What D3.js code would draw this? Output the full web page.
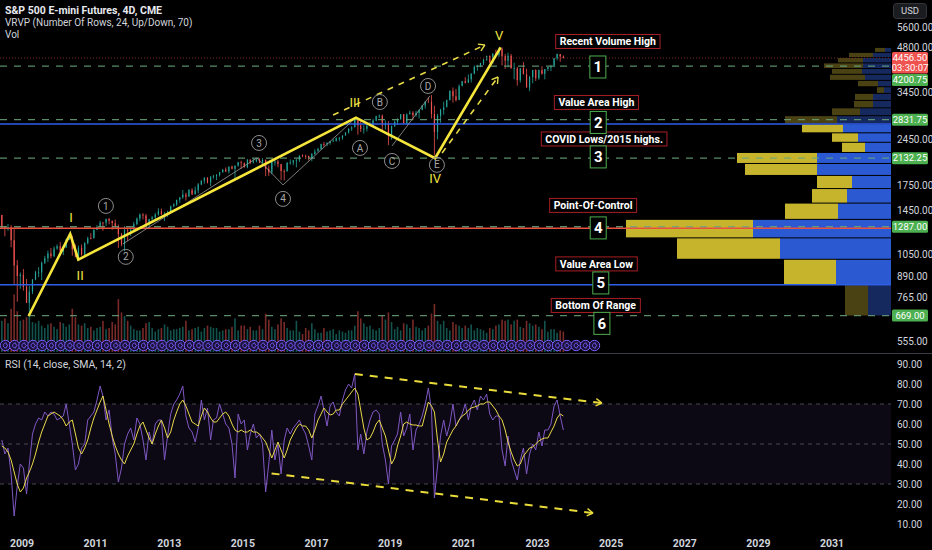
<!DOCTYPE html>
<html>
<head>
<meta charset="utf-8">
<script src="https://cdn.jsdelivr.net/npm/d3@7/dist/d3.min.js"></script>
<style>
  html, body { margin: 0; padding: 0; background: #000; }
  svg { display: block; font-family: "Liberation Sans Narrow", Roboto, "Noto Sans", sans-serif; }
</style>
</head>
<body>
<svg id="chart" width="932" height="550"></svg>
<script>
// ---- monthly S&P 500 futures, Jun 2008 .. Sep 2023 ----
const closes = [
  1280, 1267, 1282, 1166, 968, 896, 903,
  826, 735, 798, 873, 919, 919, 987, 1021, 1057, 1036, 1096, 1115,
  1074, 1104, 1169, 1187, 1089, 1031, 1102, 1049, 1141, 1183, 1181, 1258,
  1286, 1327, 1326, 1364, 1345, 1321, 1292, 1219, 1131, 1253, 1247, 1258,
  1312, 1366, 1408, 1398, 1310, 1362, 1379, 1407, 1441, 1412, 1416, 1426,
  1498, 1515, 1569, 1598, 1631, 1606, 1686, 1633, 1682, 1757, 1806, 1848,
  1783, 1859, 1872, 1884, 1924, 1960, 1931, 2003, 1972, 2018, 2068, 2059,
  1995, 2105, 2068, 2086, 2107, 2063, 2104, 1972, 1920, 2079, 2080, 2044,
  1940, 1932, 2060, 2065, 2097, 2099, 2174, 2171, 2168, 2126, 2199, 2239,
  2279, 2364, 2363, 2384, 2412, 2423, 2470, 2472, 2519, 2575, 2648, 2674,
  2824, 2714, 2641, 2648, 2705, 2718, 2816, 2902, 2914, 2712, 2760, 2507,
  2704, 2784, 2834, 2946, 2752, 2942, 2980, 2926, 2977, 3038, 3141, 3231,
  3226, 2954, 2585, 2912, 3044, 3100, 3271, 3500, 3363, 3270, 3622, 3756,
  3714, 3811, 3973, 4181, 4204, 4298, 4395, 4523, 4308, 4605, 4567, 4766,
  4516, 4374, 4530, 4132, 4132, 3785, 4130, 3955, 3586, 3872, 4080, 3840,
  4077, 3970, 4109, 4169, 4180, 4450, 4589, 4508, 4456.5
];
const highs = [
  1404, 1293, 1313, 1303, 1264, 1007, 919,
  943, 876, 832, 875, 930, 956, 996, 1039, 1080, 1101, 1113, 1130,
  1150, 1113, 1180, 1220, 1206, 1131, 1120, 1129, 1148, 1196, 1227, 1263,
  1303, 1344, 1332, 1364, 1371, 1346, 1357, 1308, 1230, 1293, 1277, 1270,
  1334, 1378, 1420, 1422, 1415, 1363, 1392, 1426, 1475, 1471, 1434, 1448,
  1504, 1530, 1570, 1598, 1687, 1654, 1698, 1709, 1730, 1775, 1813, 1849,
  1850, 1867, 1884, 1897, 1924, 1968, 1991, 2005, 2019, 2018, 2075, 2093,
  2065, 2120, 2117, 2126, 2135, 2130, 2133, 2113, 2021, 2094, 2116, 2104,
  2039, 1963, 2073, 2112, 2103, 2121, 2178, 2194, 2187, 2170, 2214, 2278,
  2301, 2371, 2401, 2398, 2419, 2454, 2484, 2491, 2520, 2582, 2657, 2695,
  2873, 2835, 2801, 2718, 2742, 2791, 2848, 2916, 2941, 2940, 2815, 2800,
  2708, 2813, 2860, 2949, 2954, 2964, 3028, 3014, 3022, 3050, 3154, 3248,
  3338, 3393, 3136, 2955, 3068, 3233, 3280, 3514, 3588, 3550, 3668, 3760,
  3870, 3950, 3981, 4218, 4238, 4302, 4430, 4537, 4546, 4608, 4743, 4808,
  4818, 4595, 4637, 4593, 4307, 4177, 4140, 4325, 4119, 3905, 4080, 4101,
  4095, 4195, 4110, 4170, 4231, 4449, 4607, 4584, 4541
];
const lows = [
  1272, 1200, 1248, 1107, 840, 741, 815,
  804, 735, 667, 784, 868, 888, 869, 979, 993, 1020, 1029, 1086,
  1071, 1045, 1101, 1170, 1040, 1028, 1011, 1040, 1040, 1131, 1173, 1186,
  1257, 1290, 1249, 1294, 1311, 1258, 1282, 1101, 1114, 1075, 1158, 1202,
  1258, 1300, 1340, 1358, 1291, 1267, 1325, 1355, 1397, 1403, 1343, 1385,
  1426, 1485, 1501, 1536, 1581, 1560, 1605, 1627, 1633, 1646, 1747, 1768,
  1770, 1737, 1834, 1815, 1862, 1915, 1930, 1904, 1964, 1821, 2002, 1972,
  1988, 1980, 2040, 2048, 2067, 2057, 2044, 1867, 1872, 1894, 2019, 1993,
  1812, 1810, 1938, 2033, 2026, 1992, 2075, 2148, 2120, 2097, 2084, 2187,
  2245, 2271, 2322, 2329, 2353, 2405, 2407, 2417, 2446, 2520, 2557, 2605,
  2682, 2533, 2585, 2553, 2594, 2698, 2699, 2796, 2864, 2603, 2631, 2346,
  2443, 2681, 2722, 2848, 2750, 2728, 2952, 2822, 2892, 2855, 3050, 3070,
  3214, 2855, 2174, 2447, 2767, 2936, 3115, 3260, 3210, 3234, 3280, 3633,
  3694, 3725, 3723, 3955, 4056, 4164, 4233, 4367, 4305, 4278, 4560, 4495,
  4222, 4115, 4157, 4124, 3811, 3637, 3721, 3955, 3585, 3492, 3699, 3764,
  3795, 3944, 3809, 4049, 4048, 4166, 4385, 4335, 4445
];
// average 4D volume per month (millions of contracts)
const volumes = [
  2.6, 2.8, 2.4, 3.6, 4.8, 3.4, 2.6,
  2.7, 2.9, 3.0, 2.5, 2.4, 2.6, 2.2, 2.0, 2.3, 2.4, 2.1, 1.9,
  2.5, 2.4, 2.1, 2.3, 3.6, 2.9, 2.3, 2.2, 2.4, 2.0, 2.1, 1.8,
  2.0, 2.1, 2.6, 1.9, 2.0, 2.5, 2.3, 4.4, 3.3, 3.0, 2.6, 2.2,
  1.9, 1.8, 1.8, 2.0, 2.4, 2.5, 2.0, 1.7, 1.9, 2.0, 2.3, 2.1,
  1.8, 1.9, 1.9, 2.0, 2.1, 2.6, 1.8, 1.9, 2.0, 2.1, 1.7, 2.0,
  2.2, 2.1, 2.0, 2.0, 1.7, 1.8, 1.9, 1.9, 2.1, 2.8, 1.8, 2.2,
  2.2, 1.9, 2.1, 1.8, 1.8, 2.2, 1.9, 3.2, 2.7, 2.1, 1.9, 2.3,
  2.8, 2.5, 2.0, 1.8, 1.8, 2.6, 1.7, 1.5, 2.0, 1.8, 2.4, 1.9,
  1.6, 1.6, 2.0, 1.7, 1.8, 1.9, 1.5, 1.8, 1.7, 1.6, 1.8, 1.8,
  2.2, 3.4, 2.8, 2.4, 2.1, 2.2, 1.9, 1.8, 2.0, 3.0, 2.7, 3.3,
  2.5, 1.9, 2.1, 1.8, 2.4, 2.3, 2.0, 2.7, 2.1, 2.0, 1.8, 2.0,
  2.2, 3.2, 4.0, 2.6, 2.3, 2.6, 2.0, 1.8, 2.5, 2.3, 2.2, 2.0,
  2.2, 2.0, 2.3, 1.8, 2.0, 1.9, 1.8, 1.6, 2.0, 1.9, 2.2, 2.3,
  2.7, 2.6, 2.7, 2.3, 2.6, 2.7, 2.1, 2.0, 2.6, 2.4, 2.2, 2.3,
  2.1, 1.9, 2.6, 1.7, 1.9, 1.9, 1.6, 1.8, 1.7
];
// RSI(14) and its SMA(14), sampled monthly
const rsi = [
  52, 45, 48, 35, 14, 29, 40,
  38, 25, 40, 55, 60, 63, 62, 66, 64, 66, 65, 62,
  63, 64, 70, 60, 50, 37, 40, 48, 50, 62, 64, 66,
  72, 79, 74, 62, 67, 53, 45, 31, 38, 50, 55, 58,
  52, 63, 60, 52, 42, 56, 50, 60, 62, 62, 42, 54,
  65, 70, 72, 75, 79, 64, 58, 56, 51, 58, 72, 62,
  68, 52, 62, 63, 70, 65, 60, 58, 50, 33, 65, 60,
  62, 47, 55, 60, 53, 55, 50, 26, 40, 57, 42, 50,
  35, 52, 58, 55, 58, 60, 62, 58, 55, 49, 42, 65,
  69, 74, 67, 59, 69, 71, 66, 64, 72, 77, 80, 78,
  85, 47, 55, 45, 56, 62, 66, 67, 65, 50, 42, 30,
  49, 52, 55, 66, 54, 58, 65, 47, 57, 60, 64, 70,
  78, 67, 23, 39, 54, 62, 54, 60, 70, 59, 62, 65,
  70, 62, 69, 72, 67, 74, 72, 75, 65, 62, 64, 64,
  47, 39, 54, 42, 37, 32, 42, 48, 35, 45, 50, 47,
  56, 49, 57, 57, 60, 69, 72, 64, 57
];
const rsiSma = [
  49, 48, 46, 42, 36, 30, 26,
  28, 33, 36, 40, 45, 51, 56, 60, 64, 65, 66, 65,
  64, 62, 59, 61, 62, 55, 48, 45, 48, 52, 58, 63,
  67, 71, 74, 67, 60, 54, 49, 45, 42, 40, 44, 47,
  50, 55, 59, 61, 57, 53, 50, 55, 59, 62, 58, 53,
  56, 62, 66, 70, 72, 69, 65, 61, 60, 59, 64, 68,
  66, 63, 61, 61, 63, 65, 66, 64, 60, 57, 56, 57,
  56, 56, 57, 56, 56, 55, 53, 51, 47, 43, 47, 51,
  47, 43, 47, 52, 55, 58, 60, 59, 59, 57, 53, 57,
  62, 65, 68, 66, 64.5, 65, 67, 67, 70, 72, 74, 76,
  78, 75, 67, 58, 52, 53, 56, 60, 62, 58, 54, 47,
  40, 43, 49, 54, 60, 61, 60, 59.5, 59.5, 59, 59, 65,
  71, 69, 66, 52, 41, 45, 51, 54, 57, 59, 62, 64,
  65, 67, 68, 68.5, 69, 70, 70, 71, 71, 69, 67, 64,
  62, 57, 51, 46, 42, 39, 40, 44, 46, 48, 48.5, 50,
  51.5, 52.5, 53, 53, 56, 59, 63, 65, 64
];

// ---- visible range volume profile: 24 rows, bottom to top ----
const vpLow = 667, vpHigh = 4818;
const vpUp   = [23, 55, 111, 138, 53, 44, 39, 74, 74, 26, 33, 48, 54, 31, 18, 18, 7, 13, 26, 29, 28, 28, 18, 6];
const vpDown = [23, 52, 103, 127, 53, 35, 35, 72, 80, 23, 26, 41, 52, 28, 19, 18, 7, 20, 35, 30, 39, 25, 24, 10];
const vaRows = [1, 11];

// ---- horizontal levels and price-scale labels ----
const levels = [4200.75, 2831.75, 2132.25, 1287.00, 669.00];
const lastPrice = 4456.50, countdown = "03:30:07";
const priceTicks = [5600, 4800, 3450, 2450, 1750, 1450, 1050, 890, 765, 555];
const rsiTicks = [90, 80, 70, 60, 50, 40, 30, 20, 10];
const yearTicks = [2009, 2011, 2013, 2015, 2017, 2019, 2021, 2023, 2025, 2027, 2029, 2031];

// ---- Elliott wave drawing (fractional year, price) ----
const wavePivots = [[2009.18, 667], [2010.31, 1220], [2010.53, 1011], [2018.07, 2873], [2020.22, 2132], [2022.0, 4818]];
const waveNames = [["I", 2010.33, 1374], ["II", 2010.58, 896], ["III", 2018.04, 3224], ["IV", 2020.22, 1843], ["V", 2021.96, 5280]];
const subWaves = [
  [[2011.74, 1134], [2015.38, 2135], [2016.09, 1751], [2018.07, 2873]],
  [[2019.05, 2333], [2020.08, 3371]]
];
const circleNames = [["1", 2011.28, 1500], ["2", 2011.82, 1031], ["3", 2015.44, 2385], ["4", 2016.09, 1580],
  ["A", 2018.18, 2299], ["B", 2018.72, 3224], ["C", 2019.05, 2089], ["D", 2020.03, 3628], ["E", 2020.27, 2030]];
const channels = [[[2017.45, 2931], [2021.57, 4905]], [[2020.41, 2216], [2021.93, 3876]]];
const rsiTrends = [[[2018.04, 85], [2024.75, 70.5]], [[2015.78, 35.3], [2024.51, 15.5]]];

// ---- text notes on the right (fractional year, price) ----
const notes = [
  ["Recent Volume High", 2024.91, 5033], ["Value Area High", 2024.60, 3213], ["COVID Lows/2015 highs.", 2024.81, 2456],
  ["Point-Of-Control", 2024.51, 1506], ["Value Area Low", 2024.60, 979], ["Bottom Of Range", 2024.58, 721]
];
const noteNumbers = [["1", 2024.64, 4172], ["2", 2024.65, 2774], ["3", 2024.65, 2152],
  ["4", 2024.65, 1276], ["5", 2024.72, 851], ["6", 2024.75, 632]];

// ================= drawing =================
const W = 932, plotRight = 891, mainBottom = 352, rsiTop = 355, rsiBottom = 532;
const svg = d3.select("#chart");
svg.append("rect").attr("width", W).attr("height", 550).attr("fill", "#000");

const monthDate = i => new Date(2008, 5 + i, 15);
const yearDate = v => {
  const yr = Math.floor(v), a = new Date(yr, 0, 1), b = new Date(yr + 1, 0, 1);
  return new Date(+a + (v - yr) * (b - a));
};

const x = d3.scaleTime().domain([new Date(2009, 0, 1), new Date(2031, 0, 1)]).range([22, 832]);
const y = d3.scaleLog().domain([555, 5600]).range([341, 27]);
const yVol = d3.scaleLinear().domain([0, 10]).range([mainBottom, mainBottom - 120]);
const yRsi = d3.scaleLinear().domain([10, 90]).range([524, 364]);
const px = (t, p) => [x(yearDate(t)), y(p)];

const defs = svg.append("defs");
defs.append("clipPath").attr("id", "clipMain").append("rect").attr("width", plotRight).attr("height", mainBottom);
defs.append("clipPath").attr("id", "clipRsi").append("rect").attr("y", rsiTop).attr("width", plotRight).attr("height", rsiBottom - rsiTop);

const main = svg.append("g").attr("clip-path", "url(#clipMain)");
const UP = "#26a69a", DOWN = "#ef5350";

// volume profile
const vpStep = (vpHigh - vpLow) / vpUp.length;
const vpTotal = vpUp.map((u, i) => u + vpDown[i]);
const vpW = d3.scaleLinear().domain([0, d3.max(vpTotal)]).range([0, 265]);
const vp = main.append("g");
vpUp.forEach((u, i) => {
  const lo = vpLow + i * vpStep, hi = lo + vpStep;
  const inside = i >= vaRows[0] && i <= vaRows[1];
  const top = y(hi) + 0.5, h = Math.max(0.6, y(lo) - y(hi) - 1);
  vp.append("rect").attr("x", plotRight - vpW(u)).attr("y", top).attr("width", vpW(u)).attr("height", h)
    .attr("fill", inside ? "#2b59d1" : "#15295f");
  vp.append("rect").attr("x", plotRight - vpW(vpTotal[i])).attr("y", top).attr("width", vpW(vpDown[i])).attr("height", h)
    .attr("fill", inside ? "#c6b42d" : "#4b4214");
});
const pocRow = vpTotal.indexOf(d3.max(vpTotal));
const pocPrice = vpLow + (pocRow + 0.5) * vpStep;
const vahPrice = vpLow + (vaRows[1] + 1) * vpStep, valPrice = vpLow + vaRows[0] * vpStep;

// volume
main.append("g").selectAll("rect").data(volumes).join("rect")
  .attr("x", (d, i) => x(monthDate(i)) - 0.8).attr("width", 1.6)
  .attr("y", d => yVol(d)).attr("height", d => mainBottom - yVol(d))
  .attr("fill", (d, i) => closes[i] >= (i ? closes[i - 1] : closes[0]) ? UP : DOWN)
  .attr("opacity", 0.5);

// price candles (thin, the 4D bars are sub-pixel at this zoom)
const candles = main.append("g");
closes.forEach((c, i) => {
  const o = i ? closes[i - 1] : highs[0];
  const col = c >= o ? UP : DOWN, cx = x(monthDate(i));
  candles.append("line").attr("x1", cx).attr("x2", cx).attr("y1", y(highs[i])).attr("y2", y(lows[i]))
    .attr("stroke", col).attr("stroke-width", 0.8);
  candles.append("rect").attr("x", cx - 0.6).attr("width", 1.2)
    .attr("y", Math.min(y(o), y(c))).attr("height", Math.max(0.8, Math.abs(y(o) - y(c))))
    .attr("fill", col);
});

// horizontal levels
const hl = main.append("g");
hl.append("line").attr("x1", 0).attr("x2", plotRight).attr("y1", y(lastPrice)).attr("y2", y(lastPrice))
  .attr("stroke", "#7a2626").attr("stroke-dasharray", "1,2");
levels.forEach(p => hl.append("line").attr("x1", 0).attr("x2", plotRight).attr("y1", y(p)).attr("y2", y(p))
  .attr("stroke", "#6aa57c").attr("stroke-width", 1.3).attr("stroke-dasharray", "7,7").attr("opacity", 0.85));
[vahPrice, valPrice].forEach(p => hl.append("line").attr("x1", 0).attr("x2", plotRight).attr("y1", y(p)).attr("y2", y(p))
  .attr("stroke", "#2f5ee8").attr("stroke-width", 1.5));
hl.append("line").attr("x1", 0).attr("x2", plotRight).attr("y1", y(pocPrice)).attr("y2", y(pocPrice))
  .attr("stroke", "#e9503f").attr("stroke-width", 1.5);

// chevron helper
function chevron(g, a, b, color, w) {
  const ang = Math.atan2(b[1] - a[1], b[0] - a[0]), L = 7;
  [0.55, -0.55].forEach(s => g.append("line").attr("x1", b[0]).attr("y1", b[1])
    .attr("x2", b[0] - L * Math.cos(ang + s)).attr("y2", b[1] - L * Math.sin(ang + s))
    .attr("stroke", color).attr("stroke-width", w));
}

// Elliott waves
const ew = main.append("g");
const line = d3.line();
subWaves.forEach(s => ew.append("path").attr("d", line(s.map(d => px(d[0], d[1]))))
  .attr("fill", "none").attr("stroke", "#9a9a9a").attr("stroke-width", 0.8));
ew.append("path").attr("d", line(wavePivots.map(d => px(d[0], d[1]))))
  .attr("fill", "none").attr("stroke", "#f6e63c").attr("stroke-width", 2.6).attr("stroke-linejoin", "miter");
channels.forEach(c => {
  const a = px(c[0][0], c[0][1]), b = px(c[1][0], c[1][1]);
  ew.append("line").attr("x1", a[0]).attr("y1", a[1]).attr("x2", b[0]).attr("y2", b[1])
    .attr("stroke", "#e9dc45").attr("stroke-width", 1.6).attr("stroke-dasharray", "6,6");
  chevron(ew, a, b, "#e9dc45", 1.4);
});
waveNames.forEach(d => {
  const p = px(d[1], d[2]);
  ew.append("text").attr("x", p[0]).attr("y", p[1]).attr("dy", "0.35em").attr("text-anchor", "middle")
    .attr("fill", "#f2e441").attr("font-size", 13).attr("font-family", "Roboto, sans-serif").text(d[0]);
});
circleNames.forEach(d => {
  const p = px(d[1], d[2]);
  ew.append("circle").attr("cx", p[0]).attr("cy", p[1]).attr("r", 7.5)
    .attr("fill", "none").attr("stroke", "#8c8c8c").attr("stroke-width", 1);
  ew.append("text").attr("x", p[0]).attr("y", p[1]).attr("dy", "0.36em").attr("text-anchor", "middle")
    .attr("fill", "#a8a8a8").attr("font-size", 10).attr("font-family", "Roboto, sans-serif").text(d[0]);
});

// notes
const nt = main.append("g").attr("font-family", "Roboto, sans-serif");
notes.forEach(d => {
  const p = px(d[1], d[2]);
  const t = nt.append("text").attr("x", p[0]).attr("y", p[1]).attr("dy", "0.35em").attr("text-anchor", "middle")
    .attr("fill", "#fff").attr("font-size", 10.5).attr("font-weight", "bold").text(d[0]);
  const bb = t.node().getBBox();
  nt.insert("rect", "text").attr("x", bb.x - 4).attr("y", p[1] - 7).attr("width", bb.width + 8).attr("height", 14)
    .attr("fill", "#000").attr("stroke", "#a81e24").attr("stroke-width", 1);
});
noteNumbers.forEach(d => {
  const p = px(d[1], d[2]);
  nt.append("rect").attr("x", p[0] - 8).attr("y", p[1] - 11).attr("width", 16).attr("height", 22)
    .attr("fill", "#000").attr("stroke", "#4caf50").attr("stroke-width", 1);
  nt.append("text").attr("x", p[0]).attr("y", p[1]).attr("dy", "0.36em").attr("text-anchor", "middle")
    .attr("fill", "#fff").attr("font-size", 15).attr("font-weight", "bold").text(d[0]);
});

// futures rollover markers
const rollovers = d3.range(65).map(i => new Date(2008, 6 + 3 * i, 20));
const ro = svg.append("g").attr("clip-path", "url(#clipMain)");
rollovers.forEach(d => {
  const cx = x(d), cy = 345.5;
  ro.append("circle").attr("cx", cx).attr("cy", cy).attr("r", 5.2).attr("fill", "#1a1238").attr("stroke", "#7b5cff").attr("stroke-width", 1);
  ro.append("path").attr("d", `M${cx + 1.5},${cy - 2.3} A2.5,2.5 0 1 0 ${cx + 1.5},${cy + 2.3} M${cx + 0.5},${cy - 1.8} L${cx + 2.6},${cy} L${cx + 0.5},${cy + 1.8}`)
    .attr("fill", "none").attr("stroke", "#7b5cff").attr("stroke-width", 0.9);
});

// pane separator
svg.append("line").attr("x1", 0).attr("x2", W).attr("y1", 353.5).attr("y2", 353.5).attr("stroke", "#3a3d46");

// RSI pane
const rp = svg.append("g").attr("clip-path", "url(#clipRsi)");
rp.append("rect").attr("x", 0).attr("width", plotRight).attr("y", yRsi(70)).attr("height", yRsi(30) - yRsi(70))
  .attr("fill", "#7e57c2").attr("opacity", 0.1);
[70, 50, 30].forEach(v => rp.append("line").attr("x1", 0).attr("x2", plotRight).attr("y1", yRsi(v)).attr("y2", yRsi(v))
  .attr("stroke", "#787b86").attr("stroke-dasharray", "4,4").attr("stroke-width", 0.8).attr("opacity", 0.7));
const rline = d3.line().x((d, i) => x(monthDate(i))).y(d => yRsi(d));
rp.append("path").attr("d", rline(rsi)).attr("fill", "none").attr("stroke", "#7e57c2").attr("stroke-width", 1);
rp.append("path").attr("d", rline(rsiSma)).attr("fill", "none").attr("stroke", "#e9d84a").attr("stroke-width", 1);
rsiTrends.forEach(c => {
  const a = [x(yearDate(c[0][0])), yRsi(c[0][1])], b = [x(yearDate(c[1][0])), yRsi(c[1][1])];
  rp.append("line").attr("x1", a[0]).attr("y1", a[1]).attr("x2", b[0]).attr("y2", b[1])
    .attr("stroke", "#e9dc3a").attr("stroke-width", 2).attr("stroke-dasharray", "8,7");
  chevron(rp, a, b, "#e9dc3a", 1.4);
});

// price axis
const ax = svg.append("g").attr("font-size", 10).attr("fill", "#d1d4dc");
priceTicks.forEach(p => ax.append("text").attr("x", 897).attr("y", y(p)).attr("dy", "0.35em").text(d3.format(".2f")(p)));
rsiTicks.forEach(v => ax.append("text").attr("x", 897).attr("y", yRsi(v)).attr("dy", "0.35em").text(d3.format(".2f")(v)));

// price labels with simple overlap push-down
const plabels = [{ p: lastPrice, lines: [d3.format(".2f")(lastPrice), countdown], fill: "#ef5350" }]
  .concat(levels.map(p => ({ p, lines: [d3.format(".2f")(p)], fill: "#4caf50" })))
  .sort((a, b) => y(a.p) - y(b.p));
let lastBottom = -Infinity;
plabels.forEach(l => {
  const h = l.lines.length * 9.5 + 2.5;
  let top = Math.max(y(l.p) - 6, lastBottom + 0.5);
  lastBottom = top + h;
  ax.append("rect").attr("x", 892).attr("y", top).attr("width", 36).attr("height", h).attr("rx", 1.5).attr("fill", l.fill);
  l.lines.forEach((s, k) => ax.append("text").attr("x", 910).attr("y", top + 6 + k * 9.5).attr("dy", "0.35em")
    .attr("text-anchor", "middle").attr("fill", "#fff").attr("font-size", 9.5).text(s));
});

// USD box
svg.append("rect").attr("x", 893.5).attr("y", 3.5).attr("width", 33).attr("height", 15).attr("rx", 3)
  .attr("fill", "#1b1c20").attr("stroke", "#35363b");
svg.append("text").attr("x", 910).attr("y", 11).attr("dy", "0.35em").attr("text-anchor", "middle")
  .attr("fill", "#d1d4dc").attr("font-size", 9.5).text("USD");

// time axis
svg.append("g").selectAll("text").data(yearTicks).join("text")
  .attr("x", d => x(new Date(d, 0, 1))).attr("y", 543).attr("dy", "0.35em").attr("text-anchor", "middle")
  .attr("fill", "#d1d4dc").attr("font-size", 10.5).attr("font-weight", "bold").text(d => d);

// legends
const lg = svg.append("g").attr("font-size", 10).attr("fill", "#d1d4dc");
lg.append("text").attr("x", 5).attr("y", 13.5).attr("font-size", 10.5).attr("fill", "#e8eaf0").attr("font-weight", "bold").text("S&P 500 E-mini Futures, 4D, CME");
lg.append("text").attr("x", 5).attr("y", 25.5).text("VRVP (Number Of Rows, 24, Up/Down, 70)");
lg.append("text").attr("x", 5).attr("y", 37.5).text("Vol");
lg.append("text").attr("x", 5).attr("y", 368).attr("font-size", 10.5).text("RSI (14, close, SMA, 14, 2)");
</script>
</body>
</html>
